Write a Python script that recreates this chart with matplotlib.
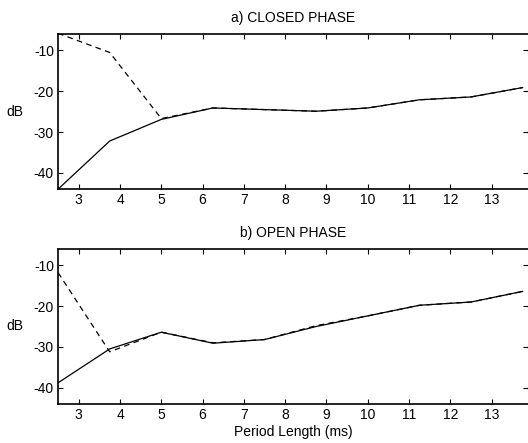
import matplotlib
matplotlib.use('Agg')
import matplotlib.pyplot as plt

plt.rcParams['font.family'] = ['Liberation Sans', 'DejaVu Sans']
plt.rcParams['axes.unicode_minus'] = False

# period lengths (ms)
period = [2.5, 3.75, 5.0, 6.25, 7.5, 8.75, 10.0, 11.25, 12.5, 13.75]

# a) closed phase
closed_solid = [-44.0, -32.2, -26.9, -24.1, -24.5, -24.9, -24.1, -22.1, -21.4, -19.1]
closed_dashed = [-5.8, -10.5, -26.7, -24.1, -24.5, -24.9, -24.1, -22.1, -21.4, -19.1]

# b) open phase
open_solid = [-38.8, -30.5, -26.4, -29.1, -28.2, -25.0, -22.4, -19.8, -19.0, -16.4]
open_dashed = [-11.8, -31.2, -26.4, -29.0, -28.2, -24.8, -22.4, -19.8, -19.0, -16.4]

xticks = [3, 4, 5, 6, 7, 8, 9, 10, 11, 12, 13]
yticks = [-40, -30, -20, -10]

fig = plt.figure(figsize=(5.28, 4.43), dpi=100)
ax1 = fig.add_axes([0.110, 0.573, 0.89, 0.350])
ax2 = fig.add_axes([0.110, 0.088, 0.89, 0.350])

panels = [
    (ax1, closed_solid, closed_dashed, 'a) CLOSED PHASE'),
    (ax2, open_solid, open_dashed, 'b) OPEN PHASE'),
]

for ax, solid, dashed, title in panels:
    ax.plot(period, solid, color='black', lw=0.9)
    ax.plot(period, dashed, color='black', lw=0.9, linestyle=(0, (4.5, 3.5)))
    ax.set_xlim(2.5, 13.88)
    ax.set_ylim(-44, -6)
    ax.set_xticks(xticks)
    ax.set_yticks(yticks)
    ax.tick_params(direction='in', top=True, right=True, length=3.5,
                   width=0.8, labelsize=10, pad=3)
    for sp in ax.spines.values():
        sp.set_linewidth(1.2)
    ax.spines['right'].set_visible(False)
    ax.set_title(title, fontsize=10, pad=8.5)
    ax.set_ylabel('dB', fontsize=10, rotation=0, va='center', ha='center')
    ax.yaxis.set_label_coords(-0.092, 0.5)

ax2.set_xlabel('Period Length (ms)', fontsize=10, labelpad=2)

fig.savefig('out.png', dpi=100)
